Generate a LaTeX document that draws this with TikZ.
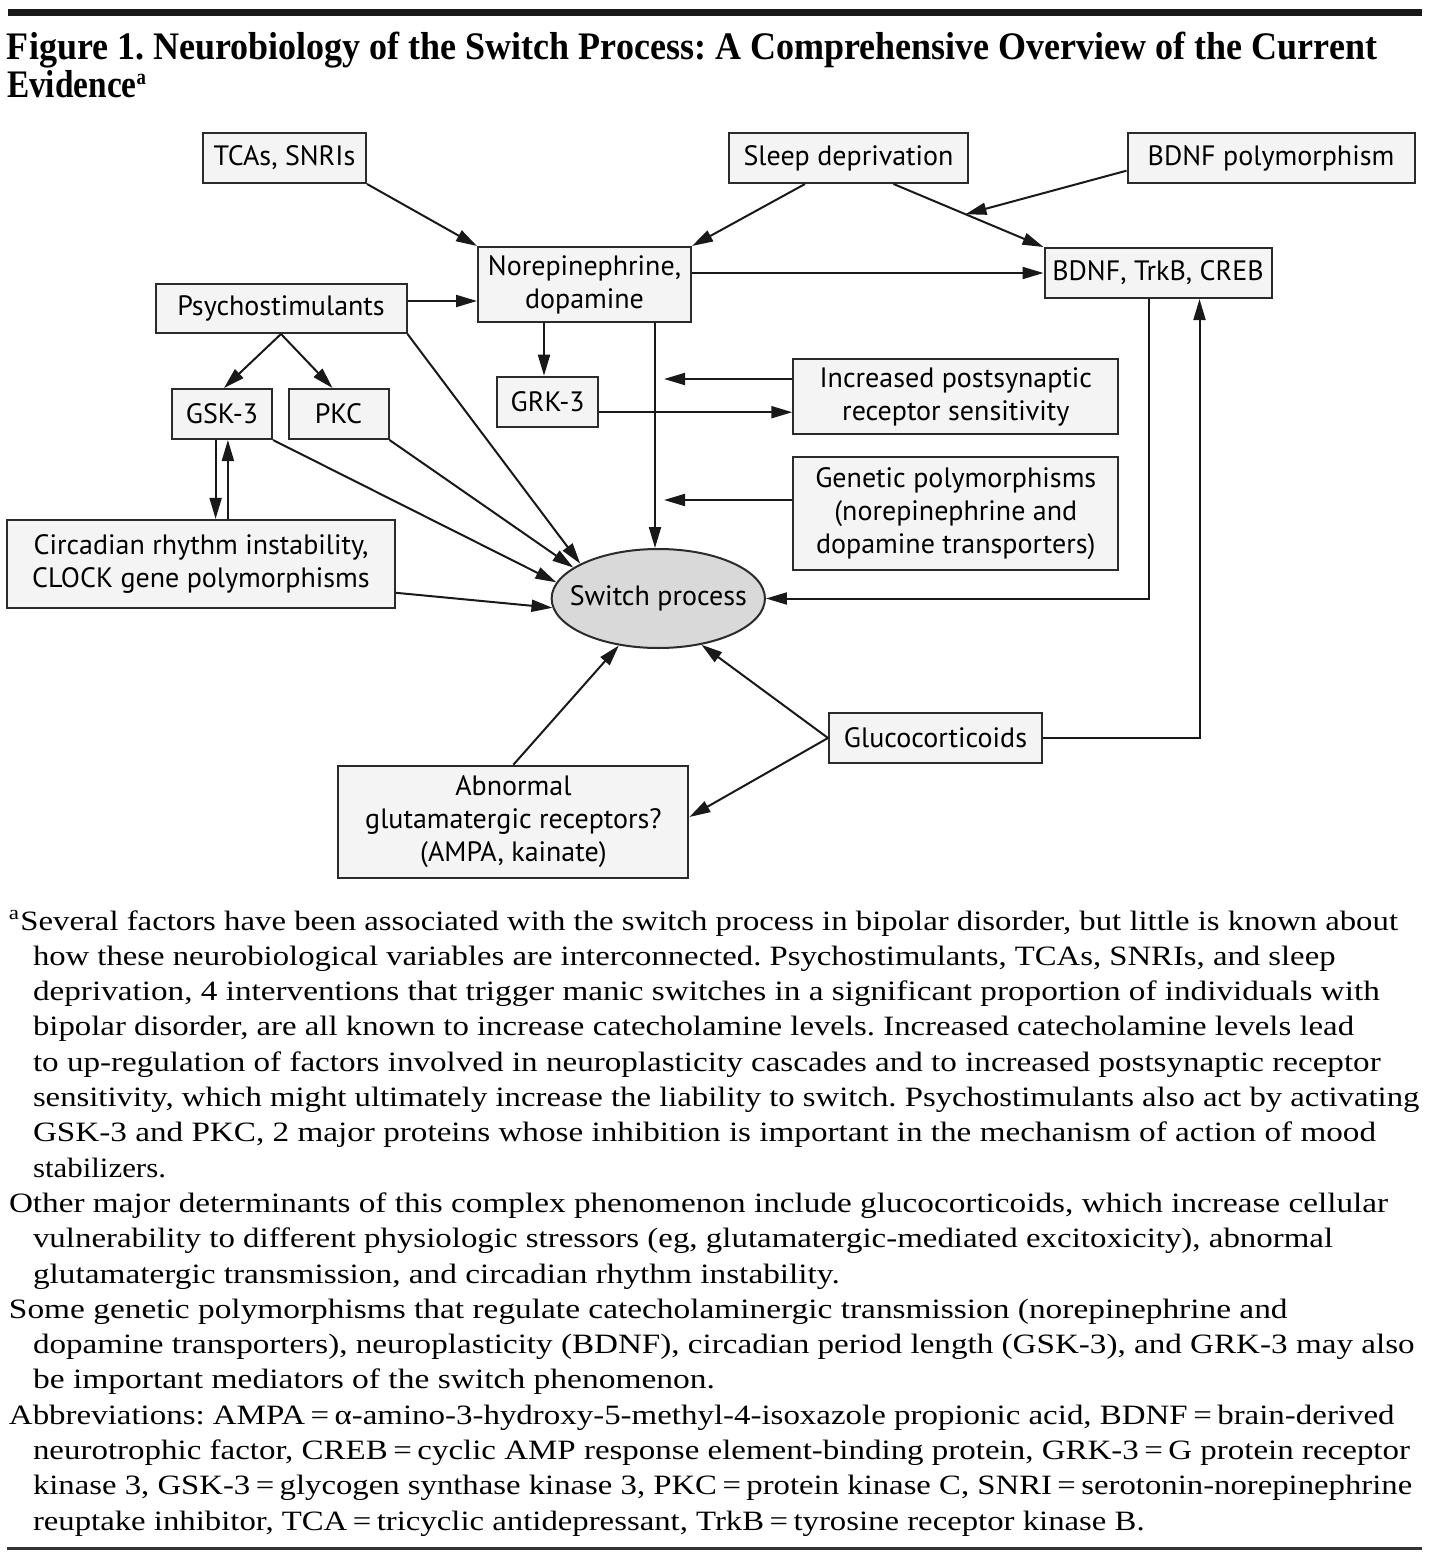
\documentclass[tikz,border=0pt]{standalone}
\usepackage{fontspec}
\setmainfont{Liberation Serif}
\newfontfamily\dfont{PT Sans}
\usepackage{graphicx}
\usetikzlibrary{arrows.meta,shapes.geometric,calc}
\frenchspacing
\newlength\fitlen
\newsavebox\fitsbox
\newcommand\fitbox[2]{%
  \sbox\fitsbox{#2}%
  \setlength\fitlen{\wd\fitsbox}%
  \pgfmathsetmacro\fitsx{(#1)/\fitlen}%
  \scalebox{\fitsx}[1]{\usebox\fitsbox}}
\newcommand\fitline[6]{%
  \node[anchor=base west,inner sep=0pt,outer sep=0pt] (#1) at (#3,#5) {\fitbox{(#4-#3)*0.5}{#2#6}};%
}
\newcommand\fnfont{\frenchspacing\fontsize{14}{17}\selectfont}
\newcommand\ttlfont{\frenchspacing\bfseries\fontsize{19.5}{24}\selectfont}
\definecolor{boxfill}{HTML}{F4F4F4}
\definecolor{ellfill}{HTML}{D9D9D9}
\definecolor{edge}{HTML}{2B2B2B}
\begin{document}
\begin{tikzpicture}[x=0.5pt,y=-0.5pt,
  box/.style={draw=edge, fill=boxfill, line width=1pt, inner sep=0pt, align=center,
    font=\dfont\fontsize{14}{16.5}\selectfont},
  sz/.style 2 args={minimum width=#1*0.5pt, minimum height=#2*0.5pt},
  arr/.style={draw=black!90, line width=1pt, -{Triangle[length=10.5pt,width=6pt]}},
]
\useasboundingbox (0,0) rectangle (1430,1557);
% rules
\fill[black!90] (8,9) rectangle (1422,16.5);
\fill[black!80] (7,1547) rectangle (1422,1549.5);
% title
\fitline{title1}{\ttlfont}{7}{1377}{59.5}{Figure 1. Neurobiology of the Switch Process: A Comprehensive Overview of the Current}
\fitline{title2}{\ttlfont}{7}{146}{97.5}{Evidence\raisebox{6.5pt}{\fontsize{11}{11}\selectfont a}}

% nodes
\node[box, sz={163}{50}] (tca) at (284.5,158) {TCAs, SNRIs};
\node[box, sz={239}{50}] (sleep) at (848.5,158) {Sleep deprivation};
\node[box, sz={287}{50}] (bdnfp) at (1271,158) {BDNF polymorphism};
\node[box, sz={213}{75}] (ne) at (584.5,284.5) {Norepinephrine,\\dopamine};
\node[box, sz={227}{50}] (bdnf) at (1158,273) {BDNF, TrkB, CREB};
\node[box, sz={251}{49}] (psy) at (281,308.5) {Psychostimulants};
\node[box, sz={100}{50}] (gsk) at (222,414) {GSK-3};
\node[box, sz={100}{50}] (pkc) at (338.5,414) {PKC};
\node[box, sz={100.6}{50}] (grk) at (547.7,401.7) {GRK-3};
\node[box, sz={325}{75.3}] (ips) at (955.8,396.7) {Increased postsynaptic\\receptor sensitivity};
\node[box, sz={325}{113.3}] (gen) at (955.8,513.3) {Genetic polymorphisms\\(norepinephrine and\\dopamine transporters)};
\node[box, sz={388}{87.7}] (circ) at (201,563.8) {Circadian rhythm instability,\\CLOCK gene polymorphisms};
\node[box, ellipse, fill=ellfill, sz={213.3}{99}] (sw) at (658.3,598.5) {\makebox[0pt]{Switch process}};
\node[box, sz={213}{50}] (glu) at (935.5,738) {Glucocorticoids};
\node[box, sz={350}{112.6}] (abn) at (513.4,822) {Abnormal\\glutamatergic receptors?\\(AMPA, kainate)};

% connectors
\draw[arr] (tca.south east) -- (ne.north west);
\draw[arr] ($(sleep.south)+(-43.5,0)$) -- (ne.north east);
\coordinate (s1) at ($(sleep.south)+(45,0)$);
\draw[arr] (s1) -- (bdnf.north west);
\coordinate (bm) at ($(s1)!0.48!(bdnf.north west)$);
\draw[arr] ($(bdnfp.west)+(0,12.7)$) -- (bm);
\draw[arr] (ne.east |- bdnf.west) -- (bdnf.west);
\coordinate (p1) at ($(psy.east)+(0,-7.5)$);
\draw[arr] (p1) -- (p1 -| ne.west);
\coordinate (n1) at ($(ne.south west)+(67,0)$);
\draw[arr] (n1) -- (n1 |- grk.north);
\coordinate (n2) at ($(ne.south west)+(178,0)$);
\draw[arr] (n2) -- (n2 |- sw.north);
\coordinate (tipx) at ($(n2)+(9,0)$);
\coordinate (ia) at ($(ips.west)+(0,-17.7)$);
\draw[arr] (ia) -- (ia -| tipx);
\coordinate (g1) at ($(grk.east)+(0,10.5)$);
\draw[arr] (g1) -- (g1 -| ips.west);
\coordinate (ga) at ($(gen.west)+(0,-13.3)$);
\draw[arr] (ga) -- (ga -| tipx);
\coordinate (b1) at ($(bdnf.south west)+(105,0)$);
\draw[arr] (b1) |- (sw.east);
\coordinate (b2) at ($(bdnf.south west)+(156,0)$);
\draw[arr] (glu.east) -| (b2);
\draw[arr] (psy.south) -- ($(gsk.north)+(2,0)$);
\draw[arr] (psy.south) -- ($(pkc.north)+(-6,0)$);
\draw[arr] (psy.south east) -- (sw.156.6);
\draw[arr] (pkc.south east) -- (sw.160.5);
\draw[arr] (gsk.south east) -- (sw.171.2);
\coordinate (k1) at ($(gsk.south)+(-6.4,0)$);
\coordinate (k2) at ($(gsk.south)+(5.9,0)$);
\draw[arr] (k1) -- (k1 |- circ.north);
\draw[arr] (k2 |- circ.north) -- (k2);
\draw[arr] ($(circ.east)+(0,29)$) -- (sw.185.3);
\draw[arr] (abn.north) -- (sw.230);
\draw[arr] (glu.west) -- (sw.313.4);
\draw[arr] (glu.west) -- ($(abn.east)+(0,-5)$);

% footnote
\fitline{fn1}{\fnfont}{9}{1398}{930}{\textsuperscript{a}Several factors have been associated with the switch process in bipolar disorder, but little is known about}
\fitline{fn2}{\fnfont}{33}{1335.5}{965.3}{how these neurobiological variables are interconnected. Psychostimulants, TCAs, SNRIs, and sleep}
\fitline{fn3}{\fnfont}{33}{1379.7}{1000.6}{deprivation, 4 interventions that trigger manic switches in a significant proportion of individuals with}
\fitline{fn4}{\fnfont}{33}{1354}{1035.9}{bipolar disorder, are all known to increase catecholamine levels. Increased catecholamine levels lead}
\fitline{fn5}{\fnfont}{33}{1380.6}{1071.2}{to up-regulation of factors involved in neuroplasticity cascades and to increased postsynaptic receptor}
\fitline{fn6}{\fnfont}{33}{1419.3}{1106.5}{sensitivity, which might ultimately increase the liability to switch. Psychostimulants also act by activating}
\fitline{fn7}{\fnfont}{33}{1376}{1141.8}{GSK-3 and PKC, 2 major proteins whose inhibition is important in the mechanism of action of mood}
\fitline{fn8}{\fnfont}{33}{166}{1177.1}{stabilizers.}
\fitline{fn9}{\fnfont}{9}{1388}{1212.4}{Other major determinants of this complex phenomenon include glucocorticoids, which increase cellular}
\fitline{fn10}{\fnfont}{33}{1333}{1247.7}{vulnerability to different physiologic stressors (eg, glutamatergic-mediated excitoxicity), abnormal}
\fitline{fn11}{\fnfont}{33}{839.7}{1283}{glutamatergic transmission, and circadian rhythm instability.}
\fitline{fn12}{\fnfont}{9}{1287.5}{1318.3}{Some genetic polymorphisms that regulate catecholaminergic transmission (norepinephrine and}
\fitline{fn13}{\fnfont}{33}{1414.6}{1353.6}{dopamine transporters), neuroplasticity (BDNF), circadian period length (GSK-3), and GRK-3 may also}
\fitline{fn14}{\fnfont}{33}{715}{1388.9}{be important mediators of the switch phenomenon.}
\fitline{fn15}{\fnfont}{9}{1394.6}{1424.2}{Abbreviations: AMPA\,=\,α-amino-3-hydroxy-5-methyl-4-isoxazole propionic acid, BDNF\,=\,brain-derived}
\fitline{fn16}{\fnfont}{33}{1410}{1459.5}{neurotrophic factor, CREB\,=\,cyclic AMP response element-binding protein, GRK-3\,=\,G protein receptor}
\fitline{fn17}{\fnfont}{33}{1412.3}{1494.8}{kinase 3, GSK-3\,=\,glycogen synthase kinase 3, PKC\,=\,protein kinase C, SNRI\,=\,serotonin-norepinephrine}
\fitline{fn18}{\fnfont}{33}{1144.6}{1530.1}{reuptake inhibitor, TCA\,=\,tricyclic antidepressant, TrkB\,=\,tyrosine receptor kinase B.}
\end{tikzpicture}
\end{document}
